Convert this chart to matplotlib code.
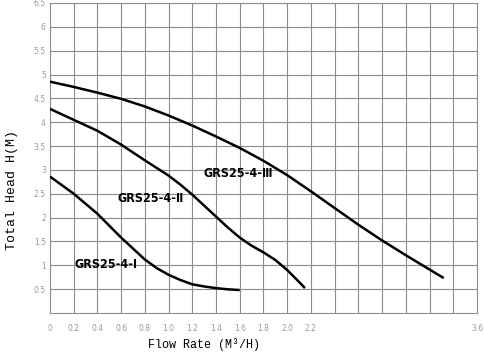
import matplotlib
matplotlib.use("Agg")
import matplotlib.pyplot as plt

# pump curves (flow m3/h, head m)
flow_1 = [0, 0.2, 0.4, 0.6, 0.8, 0.9, 1.0, 1.1, 1.2, 1.3, 1.4, 1.5, 1.6]
head_1 = [2.86, 2.50, 2.08, 1.58, 1.12, 0.94, 0.80, 0.69, 0.60, 0.555, 0.52, 0.495, 0.48]

flow_2 = [0, 0.2, 0.4, 0.6, 0.8, 0.9, 1.0, 1.1, 1.2, 1.3, 1.4, 1.5, 1.6, 1.7, 1.8, 1.9, 2.0, 2.1, 2.15]
head_2 = [4.28, 4.05, 3.82, 3.53, 3.20, 3.04, 2.88, 2.69, 2.48, 2.25, 2.02, 1.79, 1.58, 1.41, 1.27, 1.11, 0.90, 0.65, 0.52]

flow_3 = [0, 0.2, 0.4, 0.6, 0.8, 1.0, 1.2, 1.4, 1.6, 1.8, 2.0, 2.2, 2.4, 2.6, 2.8, 3.0, 3.2, 3.32]
head_3 = [4.85, 4.74, 4.62, 4.49, 4.33, 4.14, 3.93, 3.70, 3.46, 3.19, 2.89, 2.55, 2.20, 1.85, 1.52, 1.21, 0.91, 0.73]

names = ["GRS25-4-Ⅰ", "GRS25-4-Ⅱ", "GRS25-4-Ⅲ"]
label_x = [0.47, 0.847, 1.585]
label_y = [1.01, 2.39, 2.92]

xticks = [0, 0.2, 0.4, 0.6, 0.8, 1.0, 1.2, 1.4, 1.6, 1.8, 2.0, 2.2, 3.6]
xtick_labels = ["0", "0.2", "0.4", "0.6", "0.8", "1.0", "1.2", "1.4", "1.6", "1.8", "2.0", "2.2", "3.6"]
yticks = [0.5, 1, 1.5, 2, 2.5, 3, 3.5, 4, 4.5, 5, 5.5, 6, 6.5]
ytick_labels = ["0.5", "1", "1.5", "2", "2.5", "3", "3.5", "4", "4.5", "5", "5.5", "6", "6.5"]

fig = plt.figure(figsize=(4.85, 3.52), dpi=100)
ax = fig.add_axes([0.103, 0.111, 0.8805, 0.8805])

ax.set_xlim(0, 3.6)
ax.set_ylim(0, 6.5)

# grid every 0.2 / 0.5
for i in range(1, 18):
    ax.axvline(i * 0.2, color="#8c8c8c", lw=0.8, zorder=1)
for i in range(1, 13):
    ax.axhline(i * 0.5, color="#8c8c8c", lw=0.8, zorder=1)
for s in ax.spines.values():
    s.set_color("#8c8c8c")
    s.set_linewidth(0.8)

for fx, hy in [(flow_1, head_1), (flow_2, head_2), (flow_3, head_3)]:
    ax.plot(fx, hy, color="black", lw=1.8, solid_capstyle="butt",
            solid_joinstyle="round", zorder=3)

for n, lx, ly in zip(names, label_x, label_y):
    ax.text(lx, ly, n, ha="center", va="center", fontsize=9, fontweight="bold",
            fontstretch="condensed", family=["DejaVu Sans", "Noto Sans CJK SC"], zorder=4)

ax.set_xticks(xticks)
ax.set_xticklabels(xtick_labels)
ax.set_yticks(yticks)
ax.set_yticklabels(ytick_labels)
ax.tick_params(length=0, labelsize=5.5, labelcolor="#9a9a9a")
ax.tick_params(axis="x", pad=8)
ax.tick_params(axis="y", pad=3)

fig.text(0.421, 0.02, "Flow Rate (M³/H)", family="Liberation Mono", fontsize=8.5,
         ha="center", va="center")
fig.text(0.025, 0.46, "Total Head H(M)", family="Liberation Mono", fontsize=9.5,
         rotation=90, ha="center", va="center")

fig.savefig("out.png", dpi=100)
